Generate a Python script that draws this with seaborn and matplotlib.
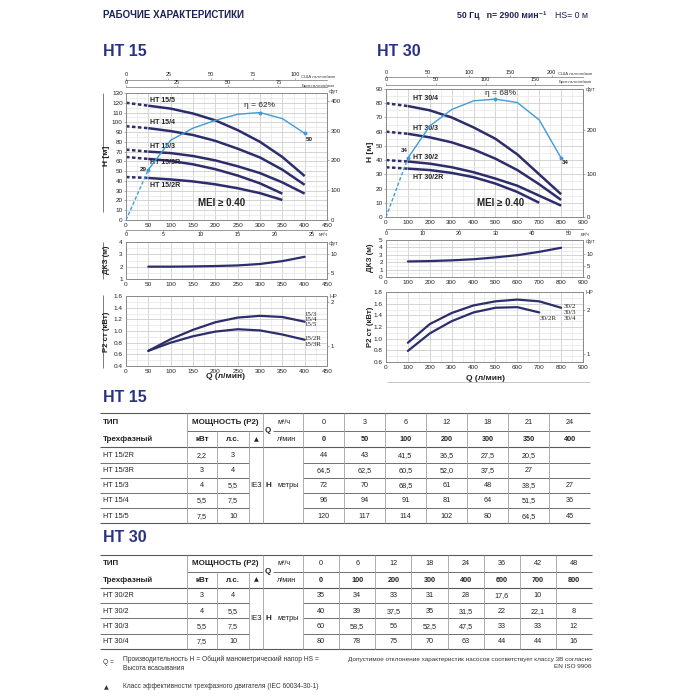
import matplotlib
matplotlib.use("Agg")
import matplotlib.pyplot as plt
import seaborn as sns
import numpy as np

# ---------------- data ----------------
# HT 15 curves, Q in l/min, H in m
q15 = [0, 50, 100, 150, 200, 250, 300, 350, 400]
h15_2R = [44, 43, 41.5, 39.5, 36.5, 32.5, 27.5, 20.5]
h15_3R = [64.5, 62.5, 60.5, 57, 52, 45.5, 37.5, 27]
h15_3 = [72, 70, 68.5, 65.5, 61, 55, 48, 38.5, 27]
h15_4 = [96, 94, 91, 87, 81, 73, 64, 51.5, 36]
h15_5 = [120, 117, 114, 109, 102, 92, 80, 64.5, 45]
eta15 = [0, 29, 46, 53, 57.5, 61, 62, 58.5, 50]
npsh15_q = [50, 100, 150, 200, 250, 300, 350, 400]
npsh15 = [2.0, 2.0, 2.02, 2.05, 2.1, 2.22, 2.45, 2.8]
p2_15_q = [50, 100, 150, 200, 250, 300, 350, 400]
p2_15_hi = [0.66, 0.86, 1.02, 1.15, 1.23, 1.26, 1.24, 1.16]
p2_15_lo = [0.66, 0.80, 0.91, 0.99, 1.03, 1.01, 0.94, 0.85]

# HT 30 curves
q30 = [0, 100, 200, 300, 400, 500, 600, 700, 800]
h30_2R = [35, 34, 33, 31, 28, 23.5, 17.6, 10]
h30_2 = [40, 39, 37.5, 35, 31.5, 27, 22, 15, 8]
h30_3 = [60, 58.5, 56, 52.5, 47.5, 41, 33, 23, 12]
h30_4 = [80, 78, 75, 70, 63, 55, 44, 30, 16]
eta30 = [0, 34, 52.5, 62, 67, 68, 66, 56, 34]
npsh30_q = [100, 200, 300, 400, 500, 600, 700, 800]
npsh30 = [2.1, 2.15, 2.25, 2.4, 2.65, 2.95, 3.4, 3.95]
p2_30_q = [100, 200, 300, 400, 500, 600, 700, 800]
p2_30_hi = [0.93, 1.25, 1.44, 1.57, 1.64, 1.67, 1.64, 1.53]
p2_30_lo = [0.79, 1.09, 1.30, 1.45, 1.53, 1.54, 1.45]

# tables
t15_types = ["HT 15/2R", "HT 15/3R", "HT 15/3", "HT 15/4", "HT 15/5"]
t15_kw = ["2,2", "3", "4", "5,5", "7,5"]
t15_hp = ["3", "4", "5,5", "7,5", "10"]
t15_m3h = ["0", "3", "6", "12", "18", "21", "24"]
t15_lmin = ["0", "50", "100", "200", "300", "350", "400"]
t15_h = [["44", "43", "41,5", "36,5", "27,5", "20,5", ""],
         ["64,5", "62,5", "60,5", "52,0", "37,5", "27", ""],
         ["72", "70", "68,5", "61", "48", "38,5", "27"],
         ["96", "94", "91", "81", "64", "51,5", "36"],
         ["120", "117", "114", "102", "80", "64,5", "45"]]

t30_types = ["HT 30/2R", "HT 30/2", "HT 30/3", "HT 30/4"]
t30_kw = ["3", "4", "5,5", "7,5"]
t30_hp = ["4", "5,5", "7,5", "10"]
t30_m3h = ["0", "6", "12", "18", "24", "36", "42", "48"]
t30_lmin = ["0", "100", "200", "300", "400", "600", "700", "800"]
t30_h = [["35", "34", "33", "31", "28", "17,6", "10", ""],
         ["40", "39", "37,5", "35", "31,5", "22", "22,1", "8"],
         ["60", "58,5", "56", "52,5", "47,5", "33", "33", "12"],
         ["80", "78", "75", "70", "63", "44", "44", "16"]]

# ---------------- style ----------------
sns.set_style("white")
plt.rcParams['font.family'] = ['Liberation Sans', 'DejaVu Sans']
plt.rcParams['axes.unicode_minus'] = False
NARROW = ['Liberation Sans Narrow', 'DejaVu Sans Condensed', 'Liberation Sans', 'DejaVu Sans']
SERIF = ['Liberation Serif', 'DejaVu Serif']

NAVY = '#2c2d6b'
BLUE = '#3f9bd9'
HEAD = '#2a3282'
TXT = '#222222'
SPINE = '#8a8a8a'
GMAJ = '#cfcfcf'
GMIN = '#e6e6e6'
TL = 4.6  # tick label size

W = H = 700
fig = plt.figure(figsize=(7, 7), dpi=100)
fig.patch.set_facecolor('white')


def rect(x0, y0, x1, y1):
    return [x0 / W, 1 - y1 / H, (x1 - x0) / W, (y1 - y0) / H]


ov = fig.add_axes([0, 0, 1, 1], zorder=-1)
ov.set_xlim(0, W)
ov.set_ylim(H, 0)
ov.set_axis_off()

GPM_US = 0.264172
GPM_IMP = 0.219969
M3H = 0.06
FT = 3.28084
HP = 1 / 0.7457


def style(ax, xlim, xmaj, xmin, ylim, ymaj, ymin, yfmt=None):
    ax.set_xlim(xlim)
    ax.set_ylim(ylim)
    ax.set_xticks(xmaj)
    ax.set_xticks(xmin, minor=True)
    ax.set_yticks(ymaj)
    ax.set_yticks(ymin, minor=True)
    if yfmt:
        ax.yaxis.set_major_formatter(yfmt)
    ax.grid(True, which='major', color=GMAJ, lw=0.6)
    ax.grid(True, which='minor', color=GMIN, lw=0.5)
    ax.tick_params(which='major', length=1.5, width=0.5, color=SPINE,
                   labelsize=TL, pad=0.8, labelcolor=TXT)
    ax.tick_params(which='minor', length=0)
    for s in ax.spines.values():
        s.set_visible(True)
        s.set_color(SPINE)
        s.set_linewidth(0.7)
    ax.set_xlabel('')
    ax.set_ylabel('')
    ax.set_axisbelow(True)


def sec_x(ax, loc, f, ticks):
    s = ax.secondary_xaxis(loc, functions=(lambda v: v * f, lambda v: v / f))
    s.set_xticks(ticks)
    s.tick_params(length=1.5, width=0.5, color=SPINE, labelsize=4.0, pad=0.5, labelcolor=TXT)
    for sp in s.spines.values():
        sp.set_color(SPINE)
        sp.set_linewidth(0.6)
    return s


def sec_y(ax, f, ticks):
    s = ax.secondary_yaxis('right', functions=(lambda v: v * f, lambda v: v / f))
    s.set_yticks(ticks)
    s.tick_params(length=1.5, width=0.5, color=SPINE, labelsize=4.3, pad=1, labelcolor=TXT)
    for sp in s.spines.values():
        sp.set_color(SPINE)
        sp.set_linewidth(0.6)
    return s


def narrow(axes):
    for a in axes:
        for lab in a.get_xticklabels() + a.get_yticklabels():
            lab.set_fontfamily(NARROW)


def pump_curve(ax, q, h, q_dash, lw=1.8, color=NAVY):
    qq = q[:len(h)]
    k = sum(1 for v in qq if v <= q_dash)
    sns.lineplot(x=qq[:k], y=h[:k], ax=ax, color=color, lw=lw,
                 ls=(0, (1.4, 1.0)), estimator=None)
    sns.lineplot(x=qq[k - 1:], y=h[k - 1:], ax=ax, color=color, lw=lw,
                 estimator=None, solid_capstyle='butt')


def eta_curve(ax, q, eta, q_dash, top):
    ax2 = ax.twinx()
    ax2.set_ylim(0, top)
    k = sum(1 for v in q if v <= q_dash)
    sns.lineplot(x=q[:k], y=eta[:k], ax=ax2, color=BLUE, lw=1.0,
                 ls=(0, (2.5, 1.5)), estimator=None)
    sns.lineplot(x=q[k - 1:], y=eta[k - 1:], ax=ax2, color=BLUE, lw=1.0, estimator=None)
    imax = int(np.argmax(eta))
    pts = [k - 1, imax, len(eta) - 1]
    sns.scatterplot(x=[q[i] for i in pts], y=[eta[i] for i in pts], ax=ax2,
                    color=BLUE, s=8, linewidth=0, zorder=5)
    ax2.set_xlim(ax.get_xlim())
    ax2.set_ylim(0, top)
    ax2.set_axis_off()
    return ax2


def lab(ax, x, y, s, **kw):
    d = dict(fontsize=5, fontweight='bold', family=NARROW, color=TXT, va='center')
    d.update(kw)
    ax.text(x, y, s, **d)


def ylab(x, y, s, size=5.6):
    ov.text(x, y, s, rotation=90, fontsize=size, fontweight='bold', ha='center',
            va='center', color=TXT, family=NARROW)


# ---------------- headers ----------------
ov.text(103, 15, "РАБОЧИЕ ХАРАКТЕРИСТИКИ", fontsize=7, fontweight='bold',
        color='#1b2254', va='center', ha='left')
ov.text(457, 15, "50 Гц   n= 2900 мин⁻¹", fontsize=6.3, fontweight='bold',
        color='#1b2254', va='center', ha='left')
ov.text(555, 15, "HS= 0 м", fontsize=6.3, color='#1b2254', va='center', ha='left')
ov.text(103, 52, "HT 15", fontsize=11.5, fontweight='bold', color=HEAD, va='center')
ov.text(377, 52, "HT 30", fontsize=11.5, fontweight='bold', color=HEAD, va='center')

# ================= HT 15 =================
ax = fig.add_axes(rect(126, 93, 327, 220))
style(ax, (0, 450), range(0, 451, 50), range(0, 451, 25), (0, 130),
      range(0, 131, 10), range(0, 131, 5))
for h in [h15_2R, h15_3R, h15_3, h15_4, h15_5]:
    pump_curve(ax, q15, h, 50)
eta_curve(ax, q15, eta15, 50, 62 * 130 / 110)
ax.set_xlim(0, 450)
for s, y in [("HT 15/5", 122.5), ("HT 15/4", 100), ("HT 15/3", 75.5),
             ("HT 15/3R", 58.5), ("HT 15/2R", 35.5)]:
    lab(ax, 54, y, s)
lab(ax, 300, 117, "η = 62%", fontsize=6, ha='center', fontweight='normal')
lab(ax, 46, 52, "29", fontsize=4.5, ha='right')
lab(ax, 402, 82, "50", fontsize=4.5, ha='left')
lab(ax, 214, 17, "MEI ≥ 0.40", fontsize=7, ha='center', family=['Liberation Sans', 'DejaVu Sans'])
s1 = sec_x(ax, 1.105, GPM_US, [0, 25, 50, 75, 100])
s2 = sec_x(ax, 1.045, GPM_IMP, [0, 25, 50, 75])
s3 = sec_x(ax, -0.075, M3H, [0, 5, 10, 15, 20, 25])
s4 = sec_y(ax, FT, [0, 100, 200, 300, 400])
narrow([ax, s1, s2, s3, s4])
ov.text(335, 77, "США галлон/мин", fontsize=3.2, ha='right', va='center', color='#444')
ov.text(335, 85.5, "Брит.галлон/мин", fontsize=3.2, ha='right', va='center', color='#444')
ov.text(319, 235, "м³/ч", fontsize=3.5, ha='left', va='center', color='#444')
ov.text(329, 92, "фут", fontsize=4, ha='left', va='center', color='#444')
ylab(107, 156, "H [м]", 6)
ov.vlines(102.5, 93, 212, color='#666', lw=0.6)

# NPSH
ax = fig.add_axes(rect(126, 242, 327, 279))
sns.lineplot(x=npsh15_q, y=npsh15, ax=ax, color=NAVY, lw=1.6, estimator=None)
style(ax, (0, 450), range(0, 451, 50), range(0, 451, 25), (1, 4), [1, 2, 3, 4],
      np.arange(1, 4.01, 0.5))
s4 = sec_y(ax, FT, [5, 10])
narrow([ax, s4])
ov.text(329, 243, "фут", fontsize=4, ha='left', va='center', color='#444')
ylab(107, 260, "ДКЗ (м)")
ov.vlines(102.5, 242, 279, color='#666', lw=0.6)

# P2
ax = fig.add_axes(rect(126, 296, 327, 366))
sns.lineplot(x=p2_15_q, y=p2_15_hi, ax=ax, color=NAVY, lw=1.6, estimator=None)
sns.lineplot(x=p2_15_q, y=p2_15_lo, ax=ax, color=NAVY, lw=1.6, estimator=None)
style(ax, (0, 450), range(0, 451, 50), range(0, 451, 25), (0.4, 1.6),
      np.arange(0.4, 1.61, 0.2), np.arange(0.4, 1.61, 0.1),
      yfmt=matplotlib.ticker.FormatStrFormatter('%.1f'))
s4 = sec_y(ax, HP, [1, 2])
narrow([ax, s4])
for s, y in [("15/3", 1.286), ("15/4", 1.20), ("15/5", 1.114), ("15/2R", 0.863), ("15/3R", 0.777)]:
    lab(ax, 399, y, s, family=SERIF, fontweight='normal', fontsize=5)
ov.text(329, 297, "HP", fontsize=4, ha='left', va='center', color='#444')
ylab(107, 332, "P2 ст (кВт)")
ov.vlines(102.5, 295, 368, color='#666', lw=0.6)
ov.text(226, 377, "Q (л/мин)", fontsize=6, fontweight='bold', ha='center', va='center',
        color=TXT, family=NARROW)

# ================= HT 30 =================
ax = fig.add_axes(rect(386, 89, 583, 217))
style(ax, (0, 900), range(0, 901, 100), range(0, 901, 50), (0, 90),
      range(0, 91, 10), range(0, 91, 5))
for h in [h30_2R, h30_2, h30_3, h30_4]:
    pump_curve(ax, q30, h, 100)
eta_curve(ax, q30, eta30, 100, 68 * 90 / 82.9)
ax.set_xlim(0, 900)
for s, y in [("HT 30/4", 83), ("HT 30/3", 62.4), ("HT 30/2", 42), ("HT 30/2R", 27.8)]:
    lab(ax, 122, y, s)
lab(ax, 524, 86.8, "η = 68%", fontsize=6, ha='center', fontweight='normal')
lab(ax, 83, 46.5, "34", fontsize=4.5, ha='center')
lab(ax, 820, 38, "34", fontsize=4.5, ha='center')
lab(ax, 525, 9.5, "MEI ≥ 0.40", fontsize=7, ha='center', family=['Liberation Sans', 'DejaVu Sans'])
s1 = sec_x(ax, 1.09, GPM_US, [0, 50, 100, 150, 200])
s2 = sec_x(ax, 1.03, GPM_IMP, [0, 50, 100, 150])
s3 = sec_x(ax, -0.09, M3H, [0, 10, 20, 30, 40, 50])
s4 = sec_y(ax, FT, [0, 100, 200])
narrow([ax, s1, s2, s3, s4])
ov.text(592, 74, "США галлон/мин", fontsize=3.2, ha='right', va='center', color='#444')
ov.text(592, 82.5, "Брит.галлон/мин", fontsize=3.2, ha='right', va='center', color='#444')
ov.text(581, 234, "м³/ч", fontsize=3.5, ha='left', va='center', color='#444')
ov.text(586, 89, "фут", fontsize=4, ha='left', va='center', color='#444')
ylab(370, 152, "H [м]", 6)

# NPSH
ax = fig.add_axes(rect(386, 240, 583, 277))
sns.lineplot(x=npsh30_q, y=npsh30, ax=ax, color=NAVY, lw=1.6, estimator=None)
style(ax, (0, 900), range(0, 901, 100), range(0, 901, 50), (0, 5), range(0, 6),
      np.arange(0, 5.01, 0.5))
s4 = sec_y(ax, FT, [0, 5, 10])
narrow([ax, s4])
ov.text(586, 241, "фут", fontsize=4, ha='left', va='center', color='#444')
ylab(370, 258, "ДКЗ (м)")

# P2
ax = fig.add_axes(rect(386, 292, 583, 362))
sns.lineplot(x=p2_30_q, y=p2_30_hi, ax=ax, color=NAVY, lw=1.6, estimator=None)
sns.lineplot(x=p2_30_q[:len(p2_30_lo)], y=p2_30_lo, ax=ax, color=NAVY, lw=1.6, estimator=None)
style(ax, (0, 900), range(0, 901, 100), range(0, 901, 50), (0.6, 1.8),
      np.arange(0.6, 1.81, 0.2), np.arange(0.6, 1.81, 0.1),
      yfmt=matplotlib.ticker.FormatStrFormatter('%.1f'))
s4 = sec_y(ax, HP, [1, 2])
narrow([ax, s4])
for s, y in [("30/2", 1.552), ("30/3", 1.454), ("30/4", 1.35)]:
    lab(ax, 812, y, s, family=SERIF, fontweight='normal', fontsize=5)
lab(ax, 700, 1.35, "30/2R", family=SERIF, fontweight='normal', fontsize=5)
ov.text(586, 293, "HP", fontsize=4, ha='left', va='center', color='#444')
ylab(370, 327, "P2 ст (кВт)")
ov.text(485, 378, "Q (л/мин)", fontsize=6, fontweight='bold', ha='center', va='center',
        color=TXT, family=NARROW)
ov.hlines(382, 387, 590, color='#bbbbbb', lw=0.6)

# ================= tables =================
HL = '#5a5a5a'
VL = '#a0a0a0'
FS = 5.2


def draw_table(y0, y_mid, y_hdr, row_h, x_end, types, kw, hp, m3h, lmin, vals):
    n = len(types)
    ncol = len(m3h)
    edges = np.linspace(303, x_end, ncol + 1)
    centers = (edges[:-1] + edges[1:]) / 2
    y_bot = y_hdr + n * row_h
    r1 = (y0 + y_mid) / 2 + 0.5
    r2 = (y_mid + y_hdr) / 2 + 0.5
    ov.hlines(y0, 100, x_end, color=HL, lw=0.8)
    ov.hlines(y_mid, 187, 263, color=HL, lw=0.6)
    ov.hlines(y_mid, 273, x_end, color=HL, lw=0.6)
    ov.hlines(y_hdr, 100, x_end, color=HL, lw=0.8)
    for i in range(1, n):
        yy = y_hdr + i * row_h
        ov.hlines(yy, 100, 249, color=HL, lw=0.6)
        ov.hlines(yy, 303, x_end, color=HL, lw=0.6)
    ov.hlines(y_bot, 100, x_end, color=HL, lw=0.8)
    for xv in [187, 263, 303] + list(edges[1:-1]):
        ov.vlines(xv, y0, y_bot, color=VL, lw=0.6)
    for xv in [217, 249]:
        ov.vlines(xv, y_mid, y_bot, color=VL, lw=0.6)
    ov.text(103, r1, "ТИП", fontsize=5.8, fontweight='bold', va='center', color=TXT)
    ov.text(225, r1, "МОЩНОСТЬ (P2)", fontsize=5.8, fontweight='bold', va='center', ha='center', color=TXT)
    ov.text(268, y_mid, "Q", fontsize=5.8, fontweight='bold', va='center', ha='center', color=TXT)
    ov.text(277, r1, "м³/ч", fontsize=FS, va='center', color=TXT)
    ov.text(103, r2, "Трехфазный", fontsize=5.8, fontweight='bold', va='center', color=TXT)
    ov.text(202, r2, "кВт", fontsize=5.8, fontweight='bold', va='center', ha='center', color=TXT)
    ov.text(233, r2, "л.с.", fontsize=5.8, fontweight='bold', va='center', ha='center', color=TXT)
    ov.text(256, r2, "▲", fontsize=4.5, va='center', ha='center', color=TXT,
            family=['DejaVu Sans'])
    ov.text(277, r2, "л/мин", fontsize=FS, va='center', color=TXT)
    for c, a, b in zip(centers, m3h, lmin):
        ov.text(c, r1, a, fontsize=FS, va='center', ha='center', color=TXT)
        ov.text(c, r2, b, fontsize=FS, fontweight='bold', va='center', ha='center', color=TXT)
    for i in range(n):
        yc = y_hdr + (i + 0.5) * row_h + 0.5
        ov.text(103, yc, types[i], fontsize=FS, va='center', color=TXT)
        ov.text(202, yc, kw[i], fontsize=FS, va='center', ha='center', color=TXT)
        ov.text(233, yc, hp[i], fontsize=FS, va='center', ha='center', color=TXT)
        for c, v in zip(centers, vals[i]):
            ov.text(c, yc, v, fontsize=FS, va='center', ha='center', color=TXT)
    ym = (y_hdr + y_bot) / 2 + 0.5
    ov.text(256, ym, "IE3", fontsize=5.6, va='center', ha='center', color=TXT)
    ov.text(268, ym, "H", fontsize=5.8, fontweight='bold', va='center', ha='center', color=TXT)
    ov.text(277, ym, "метры", fontsize=FS, va='center', color=TXT)


ov.text(103, 397, "HT 15", fontsize=11.5, fontweight='bold', color=HEAD, va='center')
draw_table(413, 431, 447.3, 15.2, 590, t15_types, t15_kw, t15_hp, t15_m3h, t15_lmin, t15_h)
ov.text(103, 538, "HT 30", fontsize=11.5, fontweight='bold', color=HEAD, va='center')
draw_table(555, 571.7, 587.7, 15.3, 592, t30_types, t30_kw, t30_hp, t30_m3h, t30_lmin, t30_h)

# footnotes
FN = '#333333'
ov.text(103, 663, "Q =", fontsize=4.8, va='center', color=FN)
ov.text(123, 659, "Производительность H = Общий манометрический напор HS =", fontsize=4.8, va='center', color=FN)
ov.text(123, 668, "Высота всасывания", fontsize=4.8, va='center', color=FN)
ov.text(592, 659, "Допустимое отклонение характеристик насосов соответствует классу 3B согласно",
        fontsize=4.6, va='center', ha='right', color=FN)
ov.text(592, 667, "EN ISO 9906", fontsize=4.6, va='center', ha='right', color=FN)
ov.text(104, 688, "▲", fontsize=4.5, va='center', color=FN, family=['DejaVu Sans'])
ov.text(123, 687, "Класс эффективности трехфазного двигателя (IEC 60034-30-1)", fontsize=4.8, va='center', color=FN)

fig.savefig("out.png", dpi=100, facecolor='white')
